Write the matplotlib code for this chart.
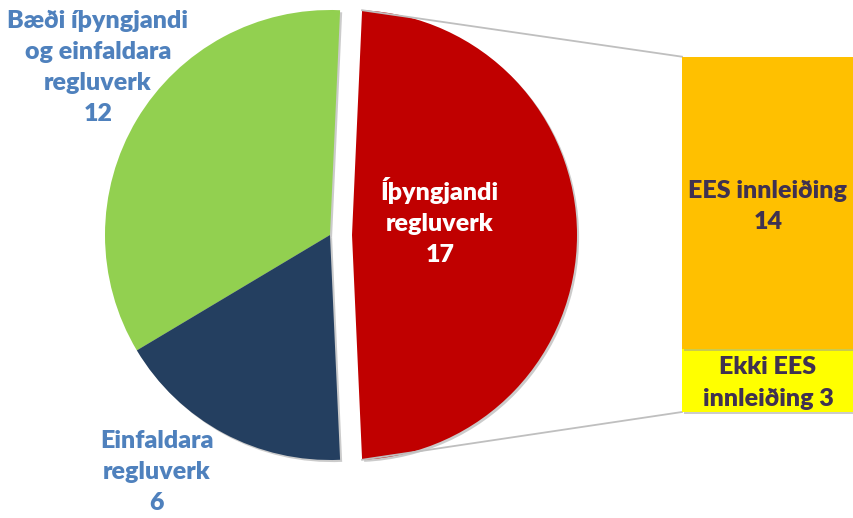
import matplotlib.pyplot as plt
import matplotlib.patheffects as pe
import numpy as np

# Pie data
pie_labels = ['Íþyngjandi\nregluverk', 'Bæði íþyngjandi\nog einfaldara\nregluverk', 'Einfaldara\nregluverk']
pie_values = [17, 12, 6]
pie_colors = ['#C00000', '#92D050', '#243F60']

# Breakdown of the red slice
bar_labels = ['Ekki EES\ninnleiðing', 'EES innleiðing\n']
bar_values = [3, 14]
bar_colors = ['#FFFF00', '#FFC000']

plt.rcParams['font.family'] = ['Lato', 'DejaVu Sans']

fig = plt.figure(figsize=(8.54, 5.18), dpi=100)
ax = fig.add_axes([0, 0, 1, 1])

shadow = [pe.SimplePatchShadow(offset=(1.5, -1.5), shadow_rgbFace='#999999', alpha=0.5), pe.Normal()]

total = sum(pie_values)
start = -pie_values[0] / total * 180
cx, cy, r = 330, 283, 225
explode_px = 22
wedges, _ = ax.pie(pie_values, colors=pie_colors, startangle=start, center=(cx, cy), radius=r,
                   explode=[explode_px, 0, 0], wedgeprops=dict(linewidth=0))
for w in wedges:
    w.set_path_effects(shadow)

# Stacked bar for the exploded slice
bar_x, bar_w = 768, 172
px_per = 20.9
bar_base = 106
bottom = bar_base
for lab, val, col in zip(bar_labels, bar_values, bar_colors):
    b = ax.bar(bar_x, val * px_per, bottom=bottom, width=bar_w, color=col, linewidth=0, zorder=2)
    b[0].set_path_effects(shadow)
    bottom += val * px_per
bar_left = bar_x - bar_w / 2

# Connector lines from the red slice edges to the bar
th1 = np.deg2rad(start + pie_values[0] / total * 360)
th0 = np.deg2rad(start)
ox = cx + explode_px
ax.plot([ox + r * np.cos(th1), bar_left], [cy + r * np.sin(th1), bottom], color='#BFBFBF', lw=1.3, zorder=1)
ax.plot([ox + r * np.cos(th0), bar_left], [cy + r * np.sin(th0), bar_base], color='#BFBFBF', lw=1.3, zorder=1)

# Labels
fs = 18
ls = 1.5
ax.text(440, 518 - 221, f'{pie_labels[0]}\n{pie_values[0]}', color='white', fontsize=fs, fontweight='heavy',
        ha='center', va='center', linespacing=ls)
ax.text(98, 518 - 67, f'{pie_labels[1]}\n{pie_values[1]}', color='#4F81BD', fontsize=fs, fontweight='heavy',
        ha='center', va='center', linespacing=ls)
ax.text(157, 518 - 472, f'{pie_labels[2]}\n{pie_values[2]}', color='#4F81BD', fontsize=fs, fontweight='heavy',
        ha='center', va='center', linespacing=ls)
ax.text(bar_x, 518 - 206, f'EES innleiðing\n{bar_values[1]}', color='#3F3151', fontsize=fs, fontweight='heavy',
        ha='center', va='center', linespacing=ls)
ax.text(bar_x, 518 - 383, f'Ekki EES\ninnleiðing {bar_values[0]}', color='#3F3151', fontsize=fs, fontweight='heavy',
        ha='center', va='center', linespacing=ls)

ax.set_xlim(0, 854)
ax.set_ylim(0, 518)
ax.set_aspect('equal')
ax.axis('off')

fig.savefig('out.png', dpi=100)
